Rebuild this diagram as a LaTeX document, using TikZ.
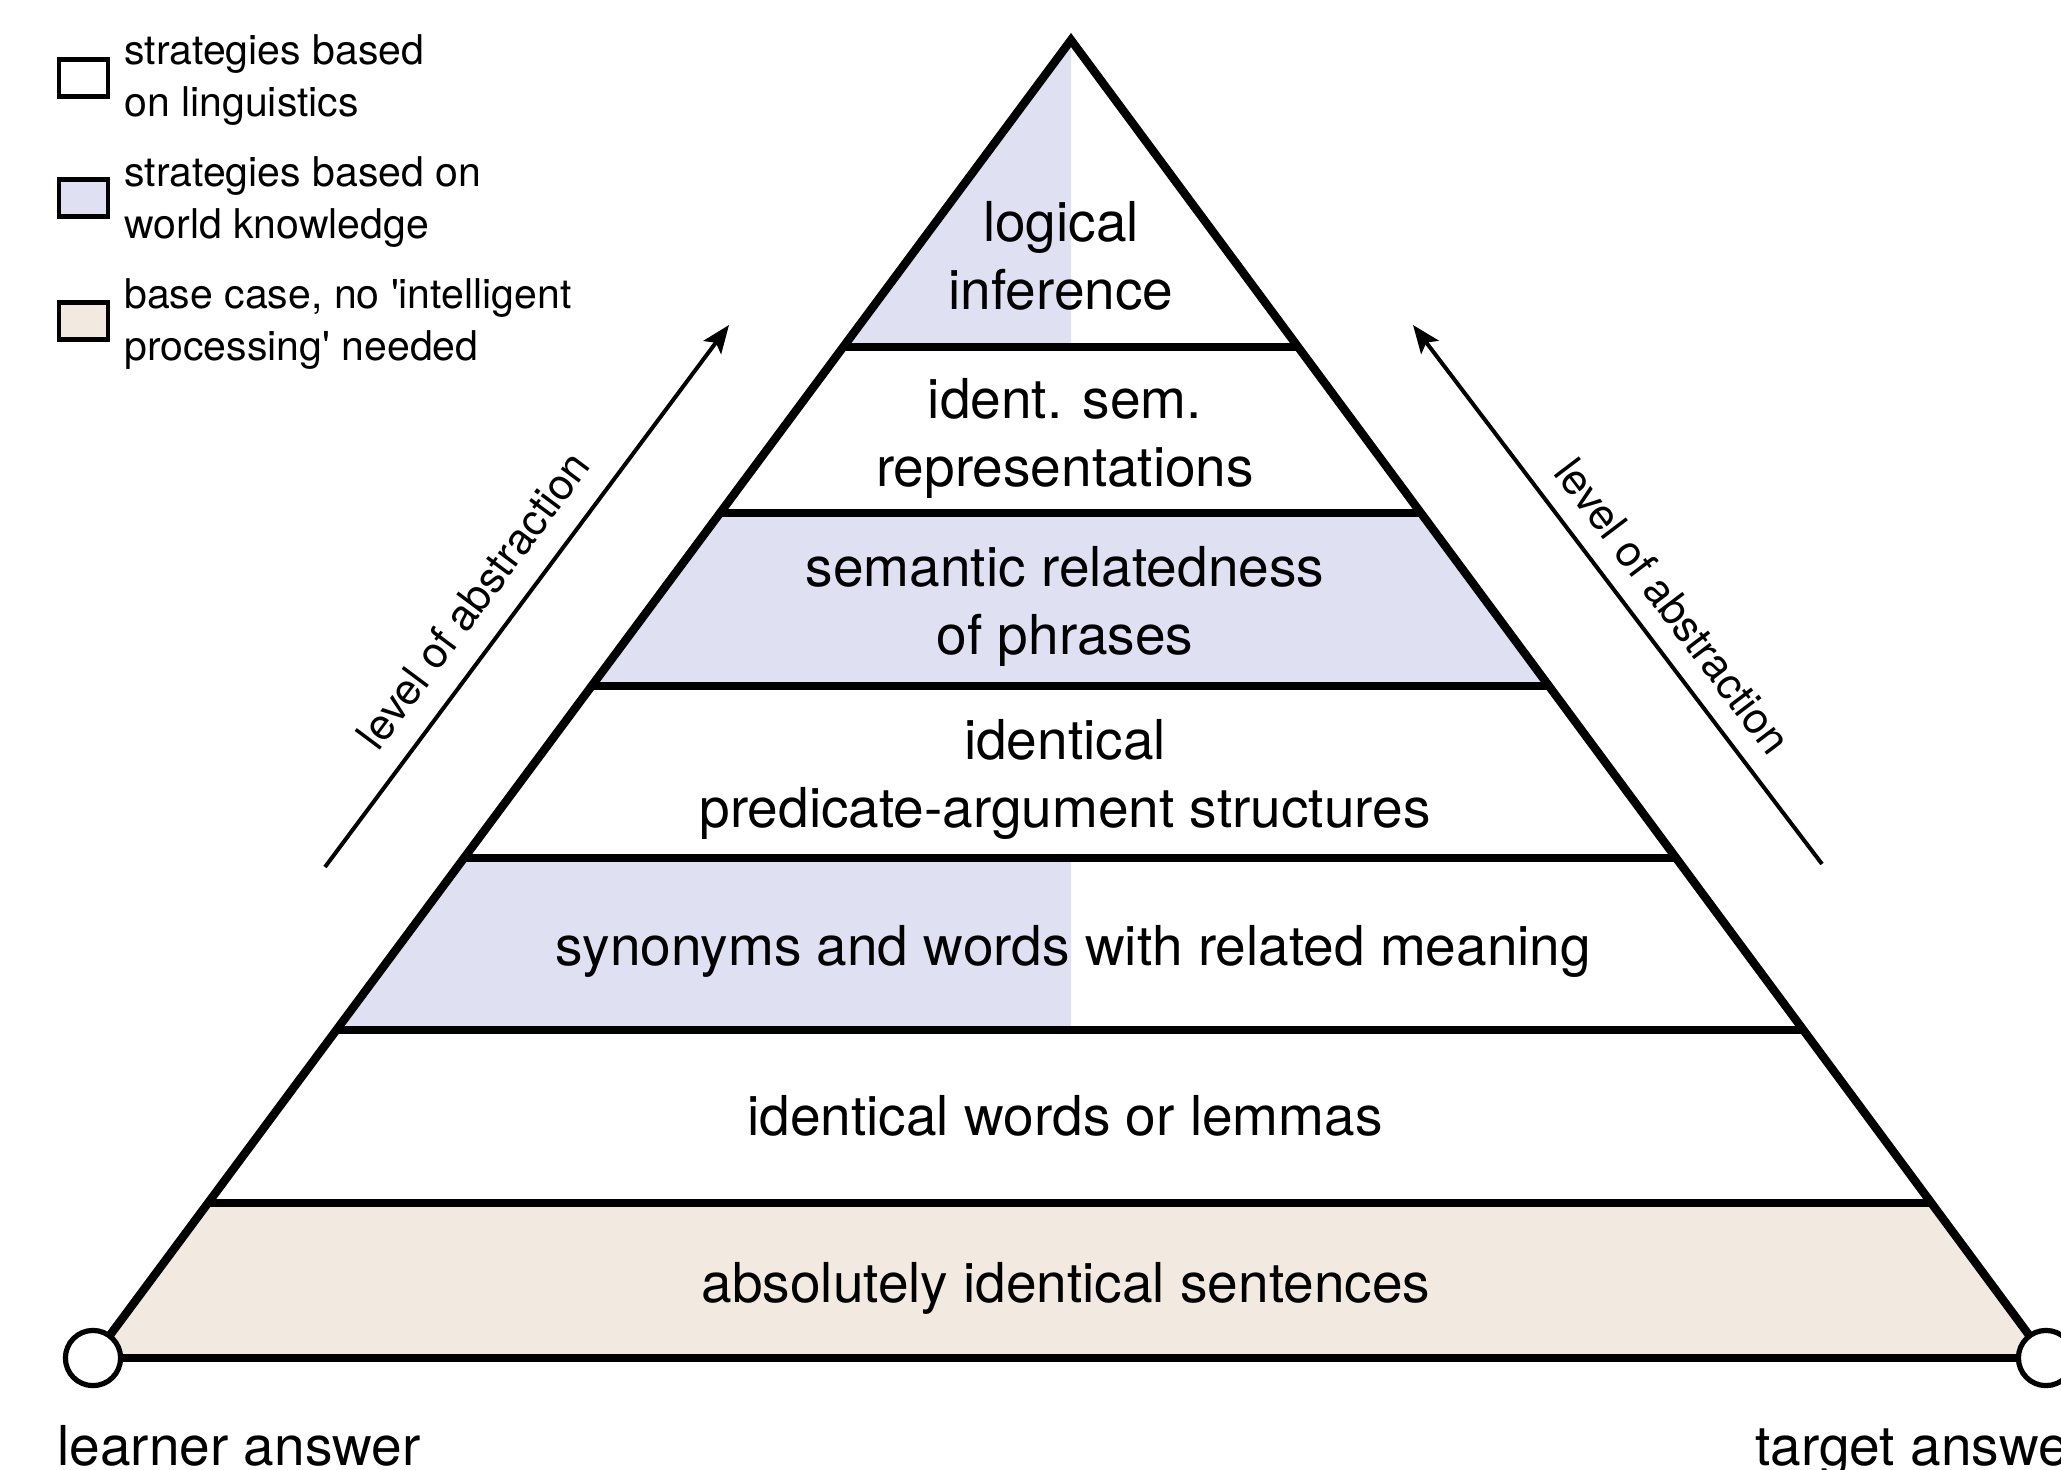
\documentclass[tikz,border=0pt]{standalone}
\usepackage{fontspec}
\setmainfont{TeX Gyre Heros}
\usetikzlibrary{arrows.meta,calc}
\definecolor{lav}{HTML}{DFE0F2}
\definecolor{beige}{HTML}{F2EAE0}
\begin{document}
\begin{tikzpicture}[x=0.5pt,y=-0.5pt,
  tiertext/.style={font=\fontsize{27.5}{34}\selectfont, align=center, inner sep=0pt},
  legtext/.style={font=\fontsize{20.5}{25.75}\selectfont, align=left, anchor=west, inner sep=0pt},
  legbox/.style={draw, line width=2.4pt, minimum width=24.5pt, minimum height=18.5pt, inner sep=0pt},
  edgeline/.style={line width=4.2pt},
  abstr/.style={font=\fontsize{21.5}{26}\selectfont, inner sep=0pt},
  endpt/.style={circle, draw, fill=white, line width=2.6pt, minimum size=27.6pt, inner sep=0pt},
  arr/.style={line width=2pt, -{Stealth[length=14pt,width=11pt,inset=3pt]}},
  bottomlabel/.style={font=\fontsize{27.5}{34}\selectfont, inner sep=0pt, anchor=base west}
]
\useasboundingbox (0,0) rectangle (2061,1469);
% pyramid corners
\coordinate (A) at (1071,40);
\coordinate (L) at (93,1358);
\coordinate (R) at (2046,1358);
% points on the sides at tier boundaries
\foreach \i/\t in {1/0.2329,2/0.3589,3/0.4901,4/0.6206,5/0.7511,6/0.8824}{
  \coordinate (l\i) at ($(A)!\t!(L)$);
  \coordinate (r\i) at ($(A)!\t!(R)$);
}
\coordinate (m1) at (1071,347);
\coordinate (m4) at (1071,858);
\coordinate (m5) at (1071,1030);
% fills
\fill[lav] (A) -- (l1) -- (m1) -- cycle;
\fill[lav] (l2) -- (r2) -- (r3) -- (l3) -- cycle;
\fill[lav] (l4) -- (m4) -- (m5) -- (l5) -- cycle;
\fill[beige] (l6) -- (r6) -- (R) -- (L) -- cycle;
% outline
\draw[edgeline, line join=miter] (L) -- (A) -- (R);
\draw[edgeline] (L) -- (R);
\foreach \i in {1,...,6}{
  \draw[edgeline] (l\i) -- (r\i);
}
% tier texts
\node[tiertext] (t1) at (1061,256) {logical\\inference};
\node[tiertext] (t2) at (1065,438) {ident. sem.\\representations};
\node[tiertext] (t3) at (1065,606) {semantic relatedness\\of phrases};
\node[tiertext] (t4) at (1065,779) {identical\\predicate-argument structures};
\node[tiertext] (t5) at (1073,951) {synonyms and words with related meaning};
\node[tiertext] (t6) at (1065,1116) {identical words or lemmas};
\node[tiertext] (t7) at (1066,1288) {absolutely identical sentences};
% end points
\node[endpt] (learner) at (L) {};
\node[endpt] (target) at (R) {};
\node[bottomlabel] (learnerlabel) at (57,1465) {learner answer};
\node[bottomlabel] (targetlabel) at (1755,1465) {target answer};
% abstraction arrows
\coordinate (la0) at (325,867);
\coordinate (la1) at (729,325);
\coordinate (ra0) at (1822,864);
\coordinate (ra1) at (1413,325);
\draw[arr] (la0) -- (la1);
\draw[arr] (ra0) -- (ra1);
\node[abstr, rotate=53.3] (labL) at (473,600) {level of abstraction};
\node[abstr, rotate=-52.8] (labR) at (1673,606) {level of abstraction};
% legend
\node[legbox] (b1) at (83.5,78) {};
\node[legbox, fill=lav] (b2) at (83.5,198) {};
\node[legbox, fill=beige] (b3) at (83.5,321) {};
\node[legtext] (lt1) at (124,80) {strategies based\\on linguistics};
\node[legtext] (lt2) at (124,202) {strategies based on\\world knowledge};
\node[legtext] (lt3) at (124,324) {base case, no \textquotesingle intelligent\\processing\textquotesingle{} needed};
\end{tikzpicture}
\end{document}
